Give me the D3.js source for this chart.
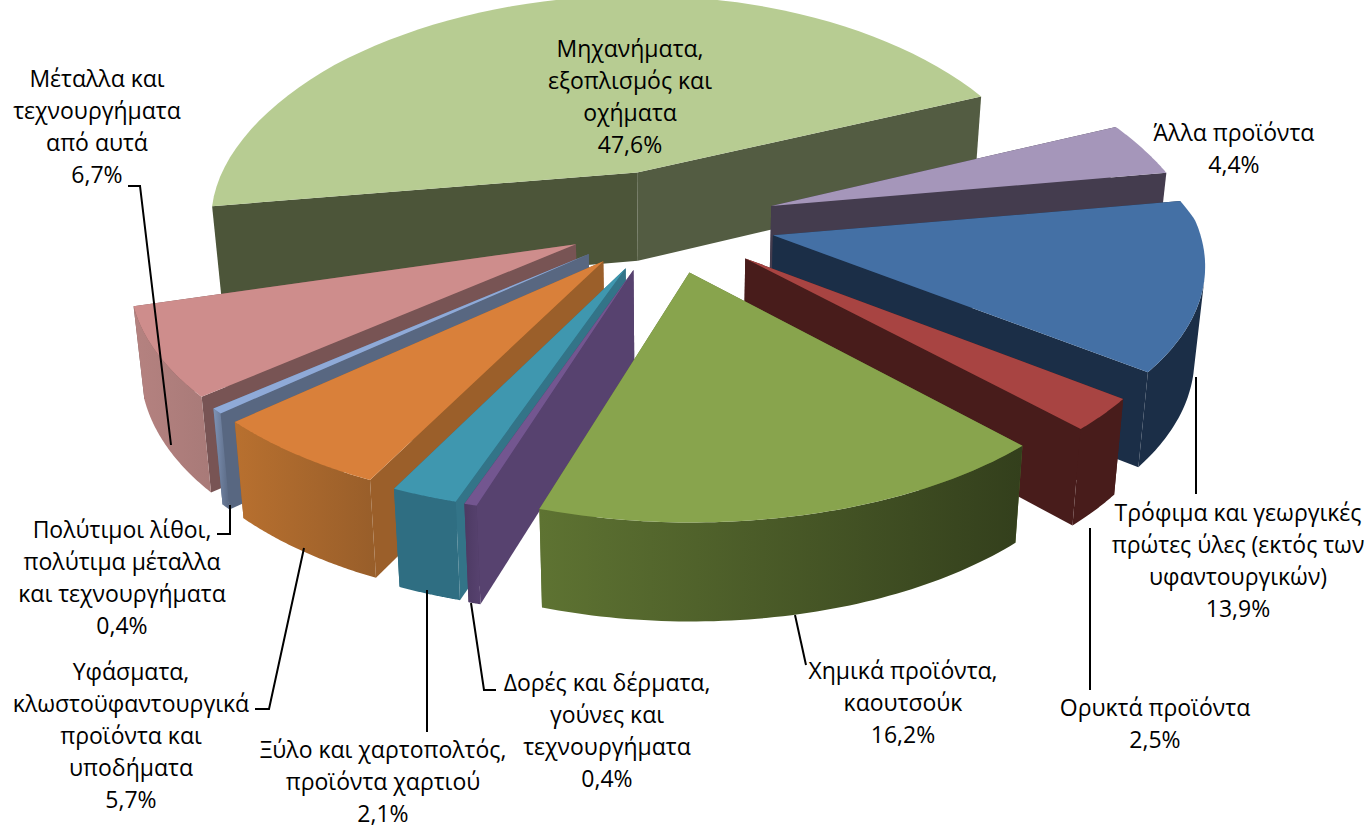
<!DOCTYPE html>
<html lang="el"><head><meta charset="utf-8">
<script src="https://cdn.jsdelivr.net/npm/d3@7"></script>
<style>html,body{margin:0;background:#fff}svg{display:block}text{font-family:"Open Sans",sans-serif;font-size:23px;fill:#000;text-anchor:middle}</style>
</head><body><svg id="c" width="1369" height="828"></svg>
<script>
// data
const categories = ["Μηχανήματα, εξοπλισμός και οχήματα","Άλλα προϊόντα","Τρόφιμα και γεωργικές πρώτες ύλες (εκτός των υφαντουργικών)","Ορυκτά προϊόντα","Χημικά προϊόντα, καουτσούκ","Δορές και δέρματα, γούνες και τεχνουργήματα","Ξύλο και χαρτοπολτός, προϊόντα χαρτιού","Υφάσματα, κλωστοϋφαντουργικά προϊόντα και υποδήματα","Πολύτιμοι λίθοι, πολύτιμα μέταλλα και τεχνουργήματα","Μέταλλα και τεχνουργήματα από αυτά"];
const values = [47.6,4.4,13.9,2.5,16.2,0.4,2.1,5.7,0.4,6.7];
const labelLines = [
 ["Μηχανήματα,","εξοπλισμός και","οχήματα","47,6%"],
 ["Άλλα προϊόντα","4,4%"],
 ["Τρόφιμα και γεωργικές","πρώτες ύλες (εκτός των","υφαντουργικών)","13,9%"],
 ["Ορυκτά προϊόντα","2,5%"],
 ["Χημικά προϊόντα,","καουτσούκ","16,2%"],
 ["Δορές και δέρματα,","γούνες και","τεχνουργήματα","0,4%"],
 ["Ξύλο και χαρτοπολτός,","προϊόντα χαρτιού","2,1%"],
 ["Υφάσματα,","κλωστοϋφαντουργικά","προϊόντα και","υποδήματα","5,7%"],
 ["Πολύτιμοι λίθοι,","πολύτιμα μέταλλα","και τεχνουργήματα","0,4%"],
 ["Μέταλλα και","τεχνουργήματα","από αυτά","6,7%"]];
// styles
const topColors  = ["#B7CC92","#A596BA","#4470A5","#A84442","#88A44D","#735690","#3F97AF","#D9803A","#8FAAD8","#CE8D8C"];
const startWalls = ["#4C5539","#443C4E","#1B2E47","#481C1B","#5E7332","#57426F","#337488","#9B5F2A","#586781","#785454"];
const endWalls   = ["#535C42","#443C4E","#1B2E47","#481C1B","#5E7332","#4D3A63","#2F6E82","#9B5F2A","#586781","#785454"];
const rimFrom    = ["#4C5539","#443C4E","#1B2E47","#481C1B","#5E7332","#4D3A63","#2F6E82","#B8702F","#7F93B5","#B58280"];
const rimTo      = ["#535C42","#443C4E","#1B2E47","#481C1B","#333F1C","#57426F","#2F6E82","#985E2A","#586781","#A87A78"];
// layout
const labelX = [630,1234,1238,1155,903,607,383,131,122,97];
const labelY = [57,141,521,716,679,691,758,680,538,87];
const lineH = 32;
const leaders = [
 [[128,186],[140,186],[171,445]],
 [[217,534],[230,534],[230,505]],
 [[255,709],[269,709],[304,548]],
 [[427,732],[427,590]],
 [[471,603],[484,690],[496,690]],
 [[795,615],[806,665]],
 [[1090,528],[1090,690]],
 [[1196,377],[1196,494]]];
const cx=671, cy=220, Rx=423, Ry=207, perspY=0.115, perspBack=0.21, explode=0.25, depth=90, taper=0.98;
const startDeg=-105.4;
// view distortion of the projected angle (degrees) and radius
const warpDeg=d3.scaleLinear().domain([-105.4,0,66,82,131.8,141,199,230,254.6]).range([6,2,0,-1.5,-5,-5,-1.5,-0.5,-0.5]);
const warpRad=d3.scaleLinear().domain([-105.4,-60,0,199,208,230,254.6]).range([1.03,1.03,1,1.005,1.015,1.03,1.03]);

const svg=d3.select("#c"), defs=svg.append("defs");
const pie=d3.pie().sort(null).startAngle(startDeg*Math.PI/180).endAngle(startDeg*Math.PI/180+2*Math.PI);
const arcs=pie(values);
const line=d3.line();
const scaleX=d3.scaleLinear().domain([0,1]).range([0,Rx]);
const scaleZ=d3.scaleLinear().domain([0,1]).range([0,-Ry]);
function proj(X,Z,down){
  const sx=1/(1+(Z>0?perspBack:perspY)*Z), sy=1/(1+perspY*Z);
  let x=cx+scaleX(X)*sx, y=cy+scaleZ(Z)*sy;
  if(down){ x=cx+(x-cx)*taper; y+=depth*(1-0.08*Z); }
  return [x,y];
}
function pt(d,a,r,down){
  const m=(d.startAngle+d.endAngle)/2, deg=a*180/Math.PI;
  const w=a+warpDeg(deg)*Math.PI/180, q=r*warpRad(deg);
  return proj(explode*Math.sin(m)+q*Math.sin(w), explode*Math.cos(m)+q*Math.cos(w), down);
}
function rimAngles(d){ return d3.range(0,61).map(i=>d.startAngle+(d.endAngle-d.startAngle)*i/60); }
const order=d3.range(arcs.length).sort((a,b)=>{
  const z=d=>Math.cos((d.startAngle+d.endAngle)/2);
  return z(arcs[b])-z(arcs[a]);
});
const g=svg.append("g");
order.forEach(i=>{
  const d=arcs[i], as=rimAngles(d), s=g.append("g");
  const wall=(a,c)=>s.append("path").attr("d",line([pt(d,a,0),pt(d,a,1),pt(d,a,1,true),pt(d,a,0,true)])+"Z").attr("fill",c);
  if((d.startAngle+d.endAngle)/2>Math.PI){ wall(d.endAngle,endWalls[i]); wall(d.startAngle,startWalls[i]); }
  else { wall(d.startAngle,startWalls[i]); wall(d.endAngle,endWalls[i]); }
  const top=as.map(a=>pt(d,a,1)), bot=as.map(a=>pt(d,a,1,true));
  const xs=top.concat(bot).map(p=>p[0]);
  const gid="rim"+i;
  const lg=defs.append("linearGradient").attr("id",gid).attr("gradientUnits","userSpaceOnUse")
    .attr("x1",d3.min(xs)).attr("x2",d3.max(xs)).attr("y1",0).attr("y2",0);
  lg.append("stop").attr("offset",0).attr("stop-color",rimFrom[i]);
  lg.append("stop").attr("offset",1).attr("stop-color",rimTo[i]);
  const front=d3.range(60).filter(k=>d3.polygonArea([top[k],top[k+1],bot[k+1],bot[k]])>0);
  if(front.length){
    const k0=d3.min(front), k1=d3.max(front)+1;
    s.append("path").attr("d",line(top.slice(k0,k1+1).concat(bot.slice(k0,k1+1).reverse()))+"Z").attr("fill",`url(#${gid})`);
  }
  s.append("path").attr("d",line([pt(d,0,0)].concat(top))+"Z").attr("fill",topColors[i]);
});
svg.append("g").selectAll("path").data(leaders).join("path").attr("d",d=>line(d)).attr("fill","none").attr("stroke","#000").attr("stroke-width",2);
labelLines.forEach((ls,i)=>{
  const t=svg.append("text").attr("x",labelX[i]);
  ls.forEach((l,j)=>t.append("tspan").attr("x",labelX[i]).attr("y",labelY[i]+j*lineH).text(l));
});
</script></body></html>
